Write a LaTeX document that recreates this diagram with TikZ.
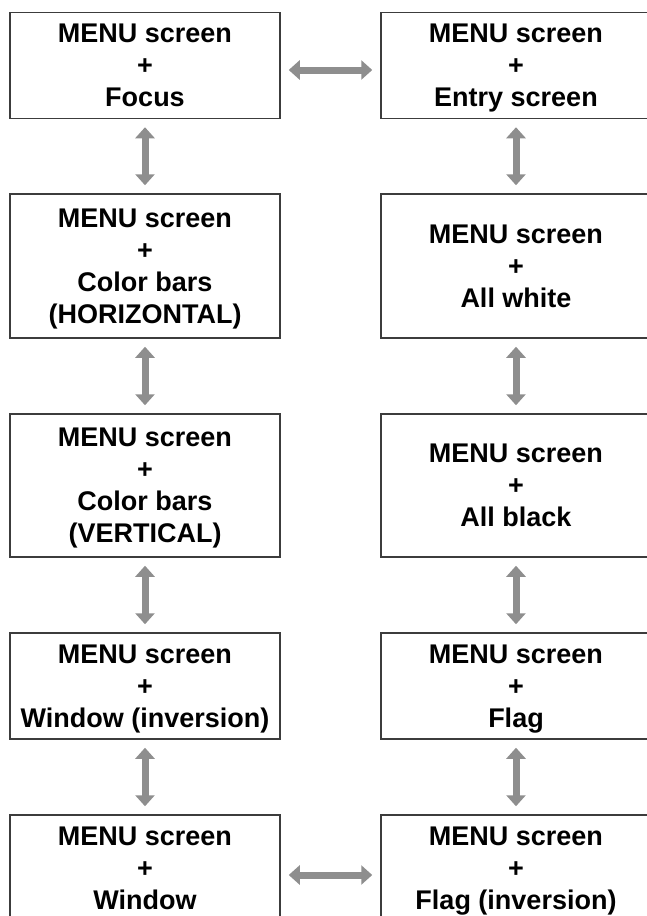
\documentclass[tikz,border=0pt]{standalone}
\usepackage{fontspec}
\setmainfont{Liberation Sans}
\usetikzlibrary{arrows.meta, positioning}

\definecolor{boxline}{HTML}{3C3C3C}
\definecolor{arrowgray}{HTML}{8E8E8E}

\begin{document}
\begin{tikzpicture}[
    x=1pt, y=-1pt,
    % Styles
    screen/.style={
        rectangle, draw=boxline, line width=1.5pt,
        minimum width=270pt, minimum height=#1, inner sep=0pt,
        font=\fontsize{27}{32}\selectfont\bfseries, align=center,
        text depth=-6pt
    },
    screen/.default=106pt,
    swap/.style={
        {Triangle[length=11pt, width=19pt]}-{Triangle[length=11pt, width=19pt]},
        draw=arrowgray, line width=7pt, shorten <=8pt, shorten >=8pt
    }
]

\useasboundingbox (0,0) rectangle (647,916);
\clip (0,0) rectangle (647,916);

% ── Left column ─────────────────────────────────────────────────────────────
\node[screen, text depth=-13pt] (focus) at (145, 65.5) {MENU screen\\+\\Focus};
\node[screen=144pt] (hbars) at (145, 266) {MENU screen\\+\\Color bars\\(HORIZONTAL)};
\node[screen=143pt] (vbars) at (145, 485.5) {MENU screen\\+\\Color bars\\(VERTICAL)};
\node[screen] (invwin) at (145, 686) {MENU screen\\+\\Window (inversion)};
\node[screen] (window) at (145, 868) {MENU screen\\+\\Window};

% ── Right column ────────────────────────────────────────────────────────────
\node[screen, text depth=-13pt] (entry) at (516, 65.5) {MENU screen\\+\\Entry screen};
\node[screen=144pt] (white) at (516, 266) {MENU screen\\+\\All white};
\node[screen=143pt] (black) at (516, 485.5) {MENU screen\\+\\All black};
\node[screen] (flag) at (516, 686) {MENU screen\\+\\Flag};
\node[screen] (invflag) at (516, 868) {MENU screen\\+\\Flag (inversion)};

% ── Arrows ──────────────────────────────────────────────────────────────────

% Left column
\draw[swap] (focus) -- (hbars);
\draw[swap] (hbars) -- (vbars);
\draw[swap] (vbars) -- (invwin);
\draw[swap] (invwin) -- (window);

% Right column
\draw[swap] (entry) -- (white);
\draw[swap] (white) -- (black);
\draw[swap] (black) -- (flag);
\draw[swap] (flag) -- (invflag);

% Across
\draw[swap] ([yshift=-4.5pt]focus.east) -- ([yshift=-4.5pt]entry.west);
\draw[swap] ([yshift=-7pt]window.east) -- ([yshift=-7pt]invflag.west);

\end{tikzpicture}
\end{document}
